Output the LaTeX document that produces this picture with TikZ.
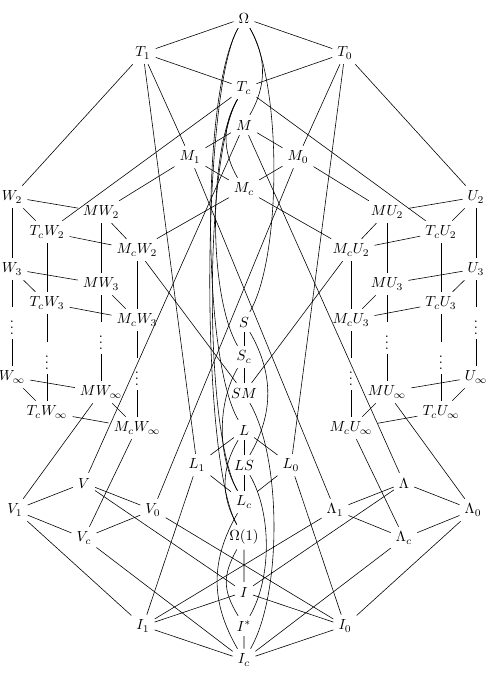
\documentclass[tikz,border=0pt]{standalone}
\usepackage{amsmath,amssymb}
\usepackage{tikz}

\tikzset{
    boglinks/.style={bend right=30, looseness=#1},
    bogrechts/.style={bend left=30, looseness=#1}
}

\begin{document}
\begin{tikzpicture}[x=0.024cm, y=-0.024cm]
        \useasboundingbox (0,0) rectangle (487,676);

        % Knoten oben
        \node (Om) at (244,18) {$\Omega$};
        \node (T1) at (143,53) {$T_1$};
        \node (T0) at (345,53) {$T_0$};
        \node (Tc) at (244,88) {$T_c$};
        \node (M) at (244,125) {$M$};
        \node (M1) at (190,157) {$M_1$};
        \node (M0) at (298,157) {$M_0$};
        \node (Mc) at (244,189) {$M_c$};

        % W-Ketten (links)
        \node (W2) at (12,197) {$W_2$};
        \node (MW2) at (101,212) {$MW_2$};
        \node (TcW2) at (47,232) {$T_cW_2$};
        \node (McW2) at (137,250) {$M_cW_2$};
        \node (W3) at (12,269) {$W_3$};
        \node (MW3) at (101,284) {$MW_3$};
        \node (TcW3) at (47,303) {$T_cW_3$};
        \node (McW3) at (137,320) {$M_cW_3$};
        \node (Wd) at (12,323) {$\vdots$};
        \node (MWd) at (101,338) {$\vdots$};
        \node (TcWd) at (47,358) {$\vdots$};
        \node (McWd) at (137,374) {$\vdots$};
        \node (Wi) at (12,377) {$W_\infty$};
        \node (MWi) at (101,392) {$MW_\infty$};
        \node (TcWi) at (47,412) {$T_cW_\infty$};
        \node (McWi) at (137,428) {$M_cW_\infty$};

        % U-Ketten (rechts)
        \node (U2) at (476,197) {$U_2$};
        \node (MU2) at (387,212) {$MU_2$};
        \node (TcU2) at (441,232) {$T_cU_2$};
        \node (McU2) at (351,250) {$M_cU_2$};
        \node (U3) at (476,269) {$U_3$};
        \node (MU3) at (387,284) {$MU_3$};
        \node (TcU3) at (441,303) {$T_cU_3$};
        \node (McU3) at (351,320) {$M_cU_3$};
        \node (Ud) at (476,323) {$\vdots$};
        \node (MUd) at (387,338) {$\vdots$};
        \node (TcUd) at (441,358) {$\vdots$};
        \node (McUd) at (351,374) {$\vdots$};
        \node (Ui) at (476,377) {$U_\infty$};
        \node (MUi) at (387,392) {$MU_\infty$};
        \node (TcUi) at (441,412) {$T_cU_\infty$};
        \node (McUi) at (351,428) {$M_cU_\infty$};

        % Mitte
        \node (S) at (244,322) {$S$};
        \node (Sc) at (244,357) {$S_c$};
        \node (SM) at (244,393) {$SM$};
        \node (L) at (244,430) {$L$};
        \node (L1) at (197,465) {$L_1$};
        \node (LS) at (244,465) {$LS$};
        \node (L0) at (291,465) {$L_0$};
        \node (Lc) at (244,502) {$L_c$};
        \node (Om1) at (244,537) {$\Omega(1)$};
        \node (I) at (244,592) {$I$};
        \node (Is) at (244,626) {$I^*$};
        \node (Ic) at (244,660) {$I_c$};

        % V und Lambda
        \node (V) at (84,483) {$V$};
        \node (V1) at (15,510) {$V_1$};
        \node (V0) at (153,510) {$V_0$};
        \node (Vc) at (84,538) {$V_c$};
        \node (La) at (404,483) {$\Lambda$};
        \node (La1) at (335,510) {$\Lambda_1$};
        \node (La0) at (473,510) {$\Lambda_0$};
        \node (Lac) at (404,538) {$\Lambda_c$};
        \node (I1) at (143,626) {$I_1$};
        \node (I0) at (345,626) {$I_0$};

        % Kanten oben
        \draw (Om) -- (T1) (Om) -- (T0) (T1) -- (Tc) (T0) -- (Tc);
        \draw (T1) -- (M1) (T0) -- (M0) (T1) -- (W2) (T0) -- (U2);
        \draw (T1) -- (L1) (T0) -- (L0) (Tc) -- (TcW2) (Tc) -- (TcU2);
        \draw (M) -- (M1) (M) -- (M0) (M) -- (V) (M) -- (La);
        \draw (M1) -- (Mc) (M0) -- (Mc) (M1) -- (MW2) (M0) -- (MU2);
        \draw (M1) -- (La1) (M0) -- (V0);
        \draw (Mc) -- (McW2) (Mc) -- (McU2) (McW2) -- (SM) (McU2) -- (SM);

        % Ketten
        \foreach \k in {2,3,i} {
            \draw (W\k) -- (MW\k) (W\k) -- (TcW\k) (MW\k) -- (McW\k) (TcW\k) -- (McW\k);
            \draw (U\k) -- (MU\k) (U\k) -- (TcU\k) (MU\k) -- (McU\k) (TcU\k) -- (McU\k);
        }
        \foreach \p in {W,MW,TcW,McW,U,MU,TcU,McU} {
            \draw (\p2) -- (\p3) -- (\p d) -- (\p i);
        }
        \draw (MWi) -- (V1) (McWi) -- (Vc) (MUi) -- (La0) (McUi) -- (Lac);

        % Mitte gerade
        \draw (S) -- (Sc) -- (SM) (L) -- (LS) -- (Lc);
        \draw (L) -- (L1) (L) -- (L0) (L1) -- (Lc) (L0) -- (Lc);
        \draw (L1) -- (I1) (L0) -- (I0) (Om1) -- (I) (Is) -- (Ic);

        % unten
        \draw (V) -- (V1) (V) -- (V0) (V1) -- (Vc) (V0) -- (Vc);
        \draw (V) -- (I) (V1) -- (I1) (V0) -- (I0) (Vc) -- (Ic);
        \draw (La) -- (La1) (La) -- (La0) (La1) -- (Lac) (La0) -- (Lac);
        \draw (La) -- (I) (La1) -- (I1) (La0) -- (I0) (Lac) -- (Ic);
        \draw (I) -- (I1) (I) -- (I0) (I1) -- (Ic) (I0) -- (Ic);

        % Boegen rechts
        \draw (Om) to[bogrechts=1.0] (M);
        \draw (Om) to[bogrechts=0.58] (S);
        \draw (S) to[bogrechts=1.0] (LS);
        \draw (SM) to[bogrechts=0.66] (Ic);
        \draw (LS) to[bogrechts=0.8] (Is);

        % Boegen links
        \draw (Om) to[boglinks=0.48] (L);
        \draw (Om) to[boglinks=0.38] (Om1);
        \draw (Tc) to[boglinks=1.0] (Mc);
        \draw (Tc) to[boglinks=0.61] (Sc);
        \draw (Tc) to[boglinks=0.44] (Lc);
        \draw (Sc) to[boglinks=0.85] (Lc);
        \draw (L) to[boglinks=1.0] (Om1);
        \draw (Lc) to[boglinks=1.03] (Ic);
        \draw (Om1) to[boglinks=1.15] (Is);
\end{tikzpicture}
\end{document}
